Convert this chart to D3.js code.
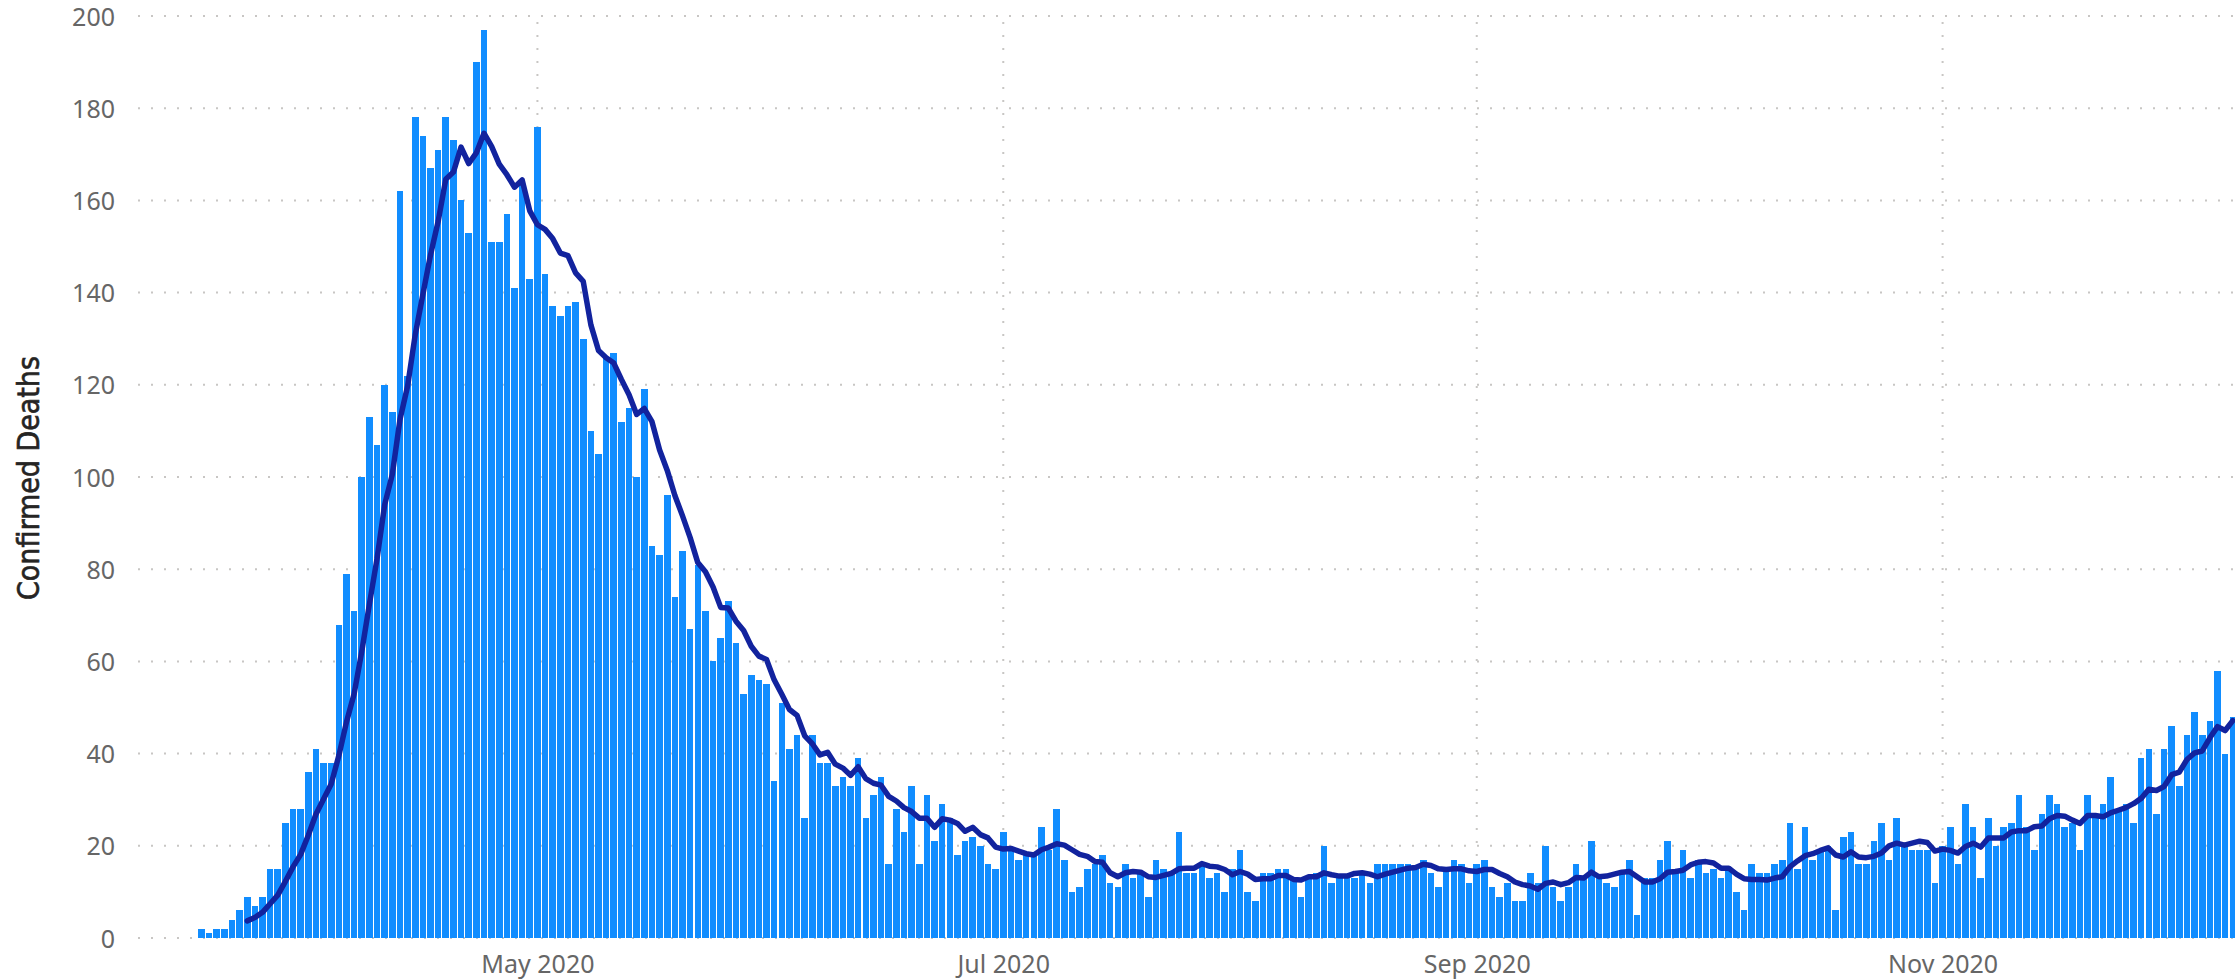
<!DOCTYPE html>
<html>
<head>
<meta charset="utf-8">
<script src="https://cdn.jsdelivr.net/npm/d3@7"></script>
<style>
  html, body { margin: 0; padding: 0; background: #ffffff; }
  svg { display: block; }
</style>
</head>
<body>
<svg id="chart" width="2235" height="979"></svg>
<script>
// ---------------- data ----------------
const firstDate = "2020-03-18";          // first bar (one bar per day)
const deaths = [
  2,1,2,2,4,6,9,7,9,15,15,25,28,28,36,41,38,38,68,79,71,100,113,107,120,114,162,122,178,174,167,171,178,173,160,153,
  190,197,151,151,157,141,164,143,176,144,137,135,137,138,130,110,105,126,127,112,115,100,119,85,83,96,74,84,67,81,71,60,65,73,
  64,53,57,56,55,34,51,41,44,26,44,38,38,33,35,33,39,26,31,35,16,28,23,33,16,31,21,29,26,18,21,22,20,16,15,23,19,17,
  18,18,24,19,28,17,10,11,15,16,18,12,11,16,13,14,9,17,15,14,23,14,14,16,13,14,10,15,19,10,8,14,14,15,15,13,9,13,14,
  20,12,13,13,13,14,12,16,16,16,16,16,15,17,14,11,15,17,16,12,16,17,11,9,12,8,8,14,12,20,11,8,11,16,13,21,13,12,11,14,
  17,5,13,13,17,21,15,19,13,17,14,15,13,15,10,6,16,14,14,16,17,25,15,24,17,19,20,6,22,23,16,16,21,25,17,26,20,19,19,
  19,12,20,24,16,29,24,13,26,20,24,25,31,24,19,27,31,29,24,25,19,31,27,29,35,28,29,25,39,41,27,41,46,33,44,49,44,47,58,40,48
];
const avgWindow = 7;                      // trailing moving average shown as the line
const yTickValues = [0,20,40,60,80,100,120,140,160,180,200];
const xTickDates = ["2020-05-01","2020-07-01","2020-09-01","2020-11-01"];
const xTickFormat = "%b %Y";
const yAxisTitle = "Confirmed Deaths";

// ---------------- derived ----------------
const start = new Date(firstDate + "T00:00:00Z");
const rows = deaths.map((v, i) => ({ date: d3.utcDay.offset(start, i), value: v }));
const avgRows = rows.slice(avgWindow - 1).map((r, j) => ({
  date: r.date,
  value: d3.mean(deaths.slice(j, j + avgWindow))
}));

// ---------------- layout ----------------
const plotLeft = 138, plotRight = 2235, yTop = 16, yBottom = 938;
const svg = d3.select("#chart");

const x = d3.scaleUtc()
  .domain([rows[0].date, rows[rows.length - 1].date])
  .range([201.4, 2232.8]);
const y = d3.scaleLinear().domain([0, 200]).range([yBottom, yTop]);
const band = x(rows[1].date) - x(rows[0].date);
const barW = band - 1.05;

const gridColor = "#C8C6C4";
const fontFamily = "'Noto Sans', 'Open Sans', 'DejaVu Sans', sans-serif";

// horizontal grid
svg.append("g").selectAll("line").data(yTickValues).join("line")
  .attr("x1", plotLeft).attr("x2", plotRight)
  .attr("y1", d => y(d)).attr("y2", d => y(d))
  .attr("stroke", gridColor).attr("stroke-width", 2)
  .attr("stroke-dasharray", "2 11");

// vertical grid at x ticks
const xTicks = xTickDates.map(s => new Date(s + "T00:00:00Z"));
svg.append("g").selectAll("line").data(xTicks).join("line")
  .attr("x1", d => x(d)).attr("x2", d => x(d))
  .attr("y1", yTop + 6).attr("y2", yBottom)
  .attr("stroke", gridColor).attr("stroke-width", 2)
  .attr("stroke-dasharray", "2 11");

// bars
svg.append("g").selectAll("rect").data(rows).join("rect")
  .attr("x", d => x(d.date) - barW / 2)
  .attr("y", d => y(d.value))
  .attr("width", barW)
  .attr("height", d => y(0) - y(d.value))
  .attr("fill", "#118DFF")
  .attr("shape-rendering", "crispEdges");

// moving average line
svg.append("path").datum(avgRows)
  .attr("fill", "none")
  .attr("stroke", "#12239E")
  .attr("stroke-width", 5.5)
  .attr("stroke-linejoin", "round")
  .attr("stroke-linecap", "round")
  .attr("d", d3.line().x(d => x(d.date)).y(d => y(d.value)));

// y axis
const yAxis = svg.append("g")
  .attr("transform", `translate(115,0)`)
  .call(d3.axisLeft(y).tickValues(yTickValues).tickSize(0).tickPadding(0));
yAxis.select(".domain").remove();
yAxis.selectAll("text")
  .attr("font-family", fontFamily).attr("font-size", 25)
  .attr("fill", "#666666").attr("dy", "0.36em");

// x axis
const xAxis = svg.append("g")
  .attr("transform", `translate(0,${yBottom})`)
  .call(d3.axisBottom(x).tickValues(xTicks).tickFormat(d3.utcFormat(xTickFormat)).tickSize(0));
xAxis.select(".domain").remove();
xAxis.selectAll("text")
  .attr("font-family", fontFamily).attr("font-size", 25)
  .attr("fill", "#666666").attr("y", 35).attr("dy", 0);

// y axis title
svg.append("text")
  .attr("transform", "translate(39,478) rotate(-90)")
  .attr("text-anchor", "middle")
  .attr("font-family", "'DejaVu Sans Condensed', 'Liberation Sans Narrow', 'DejaVu Sans', sans-serif")
  .attr("font-stretch", "condensed")
  .attr("font-size", 30)
  .attr("fill", "#252423")
  .attr("stroke", "#252423")
  .attr("stroke-width", 0.6)
  .attr("textLength", 244)
  .attr("lengthAdjust", "spacingAndGlyphs")
  .text(yAxisTitle);
</script>
</body>
</html>
